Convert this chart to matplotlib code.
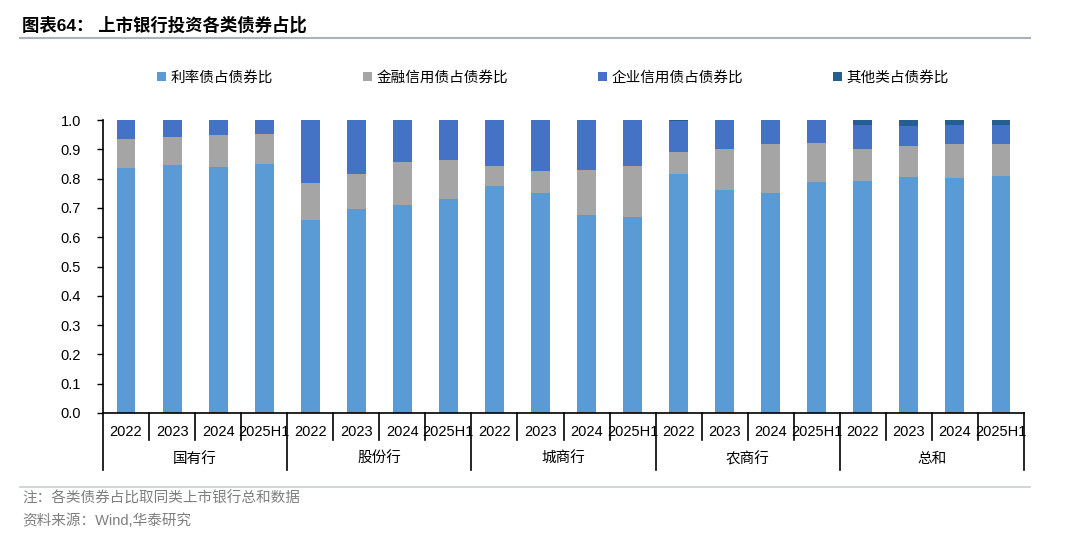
import matplotlib
matplotlib.use("Agg")
import matplotlib.pyplot as plt
import matplotlib.transforms as mtransforms
from matplotlib.patches import Patch
import numpy as np

plt.rcParams["font.family"] = ["Liberation Sans", "Noto Sans CJK SC"]

TITLE = "图表64： 上市银行投资各类债券占比"
GROUPS = ["国有行", "股份行", "城商行", "农商行", "总和"]
YEARS = ["2022", "2023", "2024", "2025H1"]
SERIES = ["利率债占债券比", "金融信用债占债券比", "企业信用债占债券比", "其他类占债券比"]

# order: 国有行 x4, 股份行 x4, 城商行 x4, 农商行 x4, 总和 x4
rate = [0.837, 0.846, 0.841, 0.850,
        0.659, 0.696, 0.709, 0.731,
        0.774, 0.751, 0.676, 0.669,
        0.817, 0.760, 0.751, 0.787,
        0.793, 0.806, 0.801, 0.808]
fin = [0.097, 0.096, 0.108, 0.101,
       0.127, 0.121, 0.147, 0.132,
       0.069, 0.074, 0.152, 0.174,
       0.073, 0.140, 0.166, 0.134,
       0.108, 0.106, 0.118, 0.111]
corp = [0.066, 0.058, 0.051, 0.049,
        0.214, 0.183, 0.144, 0.137,
        0.157, 0.175, 0.172, 0.157,
        0.108, 0.100, 0.083, 0.079,
        0.082, 0.069, 0.064, 0.064]
other = [0.0, 0.0, 0.0, 0.0,
         0.0, 0.0, 0.0, 0.0,
         0.0, 0.0, 0.0, 0.0,
         0.002, 0.0, 0.0, 0.0,
         0.017, 0.019, 0.017, 0.017]

NOTE = "注：各类债券占比取同类上市银行总和数据"
SOURCE = "资料来源：Wind,华泰研究"

COLORS = ["#5B9BD5", "#A5A5A5", "#4472C4", "#255E91"]
W, H = 1080, 543

fig = plt.figure(figsize=(10.8, 5.43), dpi=100)
ax = fig.add_axes([103 / W, 1 - 413 / H, (1024 - 103) / W, (413 - 120) / H])

x = np.arange(len(rate))
bottom = np.zeros(len(rate))
for vals, c in zip([rate, fin, corp, other], COLORS):
    ax.bar(x, vals, width=0.41, bottom=bottom, color=c, linewidth=0)
    bottom += np.array(vals)

ax.set_xlim(-0.5, len(rate) - 0.5)
ax.set_ylim(0, 1.0)
ax.set_yticks(np.arange(0, 1.01, 0.1))
ax.set_yticklabels([f"{v:.1f}" for v in np.arange(0, 1.01, 0.1)], fontsize=10.5)
ax.tick_params(axis="y", direction="out", length=4, width=1, pad=12)
ax.set_xticks([])
for s in ["top", "right"]:
    ax.spines[s].set_visible(False)
for s in ["left", "bottom"]:
    ax.spines[s].set_linewidth(1.2)
    ax.spines[s].set_color("black")

# category axis below
tr = mtransforms.blended_transform_factory(ax.transData, ax.transAxes)
px = 1 / (413 - 120)
for i, yr in enumerate(YEARS * len(GROUPS)):
    ax.text(i, -19 * px, yr, transform=tr, ha="center", va="center", fontsize=10.5)
for i in range(1, len(rate)):
    if i % 4:
        ax.plot([i - 0.5, i - 0.5], [0, -27 * px], transform=tr, color="black", lw=1.2, clip_on=False)
for g in range(len(GROUPS) + 1):
    xb = g * 4 - 0.5
    ax.plot([xb, xb], [0, -57 * px], transform=tr, color="black", lw=1.2, clip_on=False)
for g, name in enumerate(GROUPS):
    ax.text(g * 4 + 1.5, -46 * px, name, transform=tr, ha="center", va="center", fontsize=10.5)

# title and rules
fig.text(22 / W, 1 - 25 / H, TITLE, fontsize=12.5, fontweight="bold", va="center", ha="left")
fig.add_artist(plt.Line2D([20 / W, 1030 / W], [1 - 38 / H, 1 - 38 / H], color="#A9B0BE", lw=1.5))
fig.add_artist(plt.Line2D([20 / W, 1030 / W], [1 - 487 / H, 1 - 487 / H], color="#C8CDD6", lw=1.2))
fig.text(22 / W, 1 - 499 / H, NOTE, fontsize=10.5, color="#7F7F7F", va="center", ha="left")
fig.text(22 / W, 1 - 521 / H, SOURCE, fontsize=10.5, color="#7F7F7F", va="center", ha="left")

handles = [Patch(facecolor=c, edgecolor="none") for c in COLORS]
fig.legend(handles, SERIES, loc="center", bbox_to_anchor=(553 / W, 1 - 78 / H), ncol=4,
           frameon=False, fontsize=10.5, handlelength=0.6, handleheight=0.6,
           handletextpad=0.3, columnspacing=6.2)

fig.savefig("out.png", dpi=100)
